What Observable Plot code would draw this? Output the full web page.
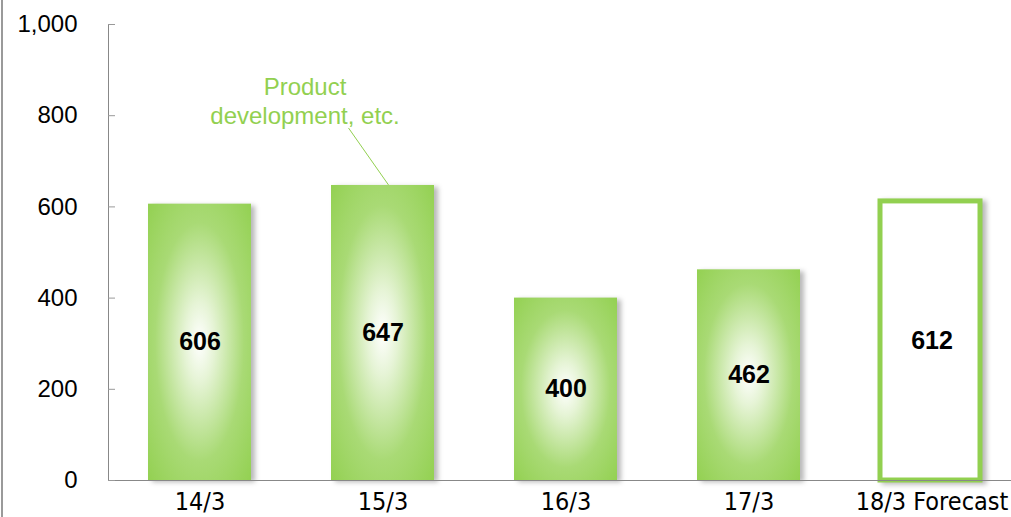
<!DOCTYPE html>
<html>
<head>
<meta charset="utf-8">
<script src="https://cdn.jsdelivr.net/npm/d3@7"></script>
<script src="https://cdn.jsdelivr.net/npm/@observablehq/plot@0.6"></script>
<style>
  html, body { margin: 0; padding: 0; background: #fff; }
  #wrap { position: relative; width: 1011px; height: 517px; overflow: hidden; }
  g[aria-label="bar"] rect { filter: drop-shadow(4px 2px 2.5px rgba(0,0,0,0.28)); }
</style>
</head>
<body>
<div id="wrap"></div>
<script>
const categories = ["14/3", "15/3", "16/3", "17/3", "18/3 Forecast"];
const values = [606, 647, 400, 462, 612];
const forecast = [false, false, false, false, true];
const yTicks = [0, 200, 400, 600, 800, 1000];
const annotationText = "Product\ndevelopment, etc.";
const annotationCategory = "15/3";

const green = "#92D050";
const data = categories.map((c, i) => ({category: c, value: values[i], forecast: forecast[i]}));
const actual = data.filter(d => !d.forecast);
const future = data.filter(d => d.forecast);
const annotated = data.find(d => d.category === annotationCategory);

const defs = () => {
  const g = d3.create("svg:defs");
  const rg = g.append("radialGradient").attr("id", "barGrad")
    .attr("cx", "50%").attr("cy", "50%").attr("r", "72%").attr("fx", "50%").attr("fy", "50%");
  rg.append("stop").attr("offset", "0%").attr("stop-color", "#ffffff");
  rg.append("stop").attr("offset", "20%").attr("stop-color", "#e6f4d6");
  rg.append("stop").attr("offset", "60%").attr("stop-color", "#a9da75");
  rg.append("stop").attr("offset", "100%").attr("stop-color", green);
  return g.node();
};

const yAxisLine = (index, scales, values, dims) => {
  return d3.create("svg:line")
    .attr("x1", dims.marginLeft + 0.5).attr("x2", dims.marginLeft + 0.5)
    .attr("y1", scales.y(1000)).attr("y2", scales.y(0))
    .attr("stroke", "#888").attr("stroke-width", 1).node();
};

const sansFont = "Liberation Sans, Arial, sans-serif";

const chart = Plot.plot({
  width: 1011,
  height: 517,
  marginLeft: 108,
  marginRight: 0,
  marginTop: 24,
  marginBottom: 37,
  style: {background: "transparent", overflow: "visible"},
  x: {domain: categories, range: [108, 1023], paddingInner: 0.437, paddingOuter: 0.2185, align: 0.5},
  y: {domain: [0, 1000]},
  marks: [
    defs,
    Plot.barY(actual, {x: "category", y: "value", fill: "url(#barGrad)"}),
    Plot.barY(future, {x: "category", y: "value", fill: "white", stroke: green, strokeWidth: 5, insetRight: 3}),
    Plot.ruleY([0], {stroke: "#888", strokeWidth: 1}),
    yAxisLine,
    Plot.axisY({ticks: yTicks, tickSize: -7, tickPadding: 38, stroke: "#999", tickFormat: d3.format(","), fontSize: 24, fontFamily: sansFont, fill: "#000", label: null}),
    Plot.axisX({tickSize: 0, tickPadding: 12, fontSize: 25, fontFamily: "DejaVu Sans Condensed, Liberation Sans Narrow, sans-serif", fill: "#000", label: null}),
    Plot.text(data, {x: "category", y: d => d.value / 2, text: d => String(d.value), fontSize: 25, fontWeight: "bold", fontFamily: sansFont, fill: "#000"}),
    Plot.text([annotated], {x: "category", y: 834, text: () => annotationText, dx: -78, fontSize: 24, lineHeight: 1.21, fill: green, fontFamily: sansFont})
  ]
});

// leader line from annotation to the annotated bar, positioned with the chart's own scales
const sx = chart.scale("x");
const sy = chart.scale("y");
const cx = sx.apply(annotated.category) + sx.bandwidth / 2;
const svg = d3.select(chart);
svg.append("line")
  .attr("x1", cx - 34).attr("y1", sy.apply(772))
  .attr("x2", cx + 6).attr("y2", sy.apply(annotated.value))
  .attr("stroke", green).attr("stroke-width", 1);
// left frame border
svg.append("line")
  .attr("x1", 2).attr("x2", 2).attr("y1", 0).attr("y2", 517)
  .attr("stroke", "#9a9a9a").attr("stroke-width", 2);

document.getElementById("wrap").appendChild(chart);
</script>
</body>
</html>
